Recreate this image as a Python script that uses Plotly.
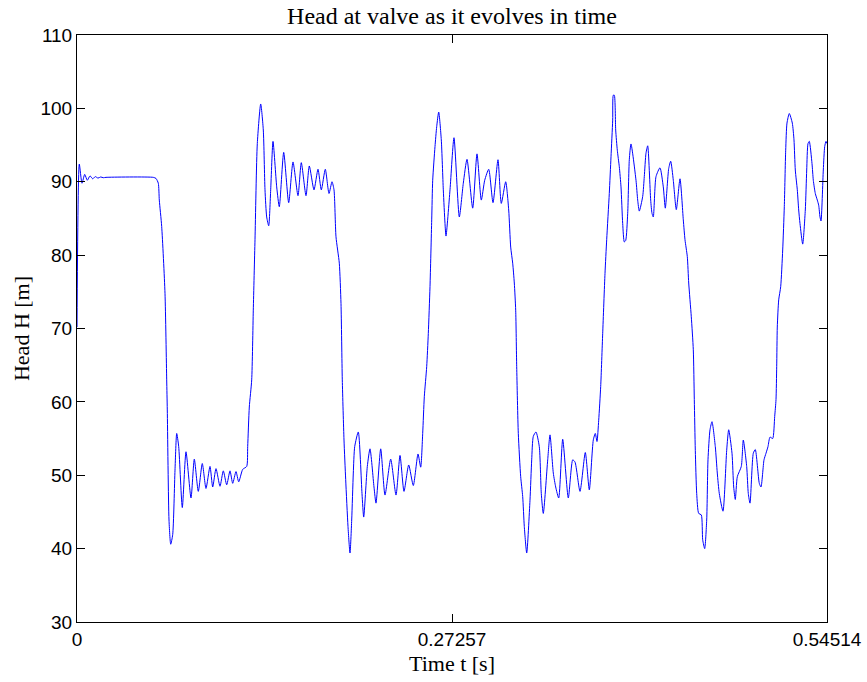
import plotly.graph_objects as go

# time in milliseconds (converted to seconds for plotting)
t_ms = [0.00, 1.67, 3.63, 5.60, 7.49, 9.45, 11.41, 13.30, 15.26, 17.23, 19.12, 21.08,
        55.46, 57.42, 59.09, 59.82, 61.56, 63.96, 65.20, 65.63, 66.87, 68.11, 69.56, 71.23,
        72.47, 73.92, 76.54, 79.23, 82.86, 85.26, 88.17, 91.07, 93.76, 96.67, 98.63, 101.03,
        103.94, 106.34, 108.81, 111.21, 113.17, 115.57, 117.53, 120.44, 123.35, 124.07, 125.24,
        126.98, 128.14, 129.38, 131.05, 133.52, 135.41, 136.65, 137.88, 139.34, 140.79, 142.46,
        145.15, 147.04, 150.24, 153.87, 157.00, 160.63, 163.03, 166.45, 168.85, 172.26, 175.17,
        177.57, 180.48, 183.17, 185.35, 186.80, 188.25, 190.65, 191.89, 192.83, 194.07, 195.30,
        196.98, 198.43, 199.67, 200.83, 201.85, 204.46, 207.15, 208.39, 211.01, 212.97, 215.87,
        217.33, 220.75, 223.87, 228.01, 231.87, 234.78, 237.68, 241.10, 244.44, 247.86, 249.82,
        251.27, 252.44, 254.18, 255.34, 256.58, 257.82, 258.54, 260.21, 261.45, 262.90, 264.79,
        266.25, 267.48, 268.21, 271.12, 274.02, 277.88, 280.78, 283.47, 287.61, 290.74, 293.87,
        296.34, 299.25, 302.37, 306.00, 308.40, 311.60, 313.78, 315.23, 316.69, 317.85, 318.87,
        319.60, 320.76, 322.50, 323.96, 325.12, 326.87, 329.26, 330.50, 331.66, 333.62, 336.02,
        337.48, 338.93, 342.13, 343.80, 346.20, 347.94, 350.13, 353.03, 357.10, 360.30, 361.98,
        365.61, 369.46, 372.37, 375.27, 376.73, 377.96, 379.20, 380.65, 382.10, 383.78, 385.01,
        386.90, 388.14, 389.37, 389.81, 390.54, 391.55, 392.72, 394.17, 395.41, 396.64, 397.81,
        398.82, 400.28, 401.44, 402.67, 406.31, 407.54, 408.71, 411.18, 412.34, 413.58, 414.81,
        416.99, 417.94, 418.88, 420.85, 423.75, 426.15, 427.61, 430.08, 431.53, 433.42, 435.60,
        438.29, 440.69, 441.92, 443.60, 444.62, 446.50, 447.96, 448.69, 449.42, 450.43, 451.88,
        453.77, 454.79, 456.24, 457.70, 458.64, 460.10, 461.55, 463.95, 465.40, 466.86, 469.54,
        472.23, 473.69, 476.09, 477.32, 478.49, 479.94, 482.85, 484.30, 486.77, 487.94, 489.17,
        491.57, 493.02, 495.93, 497.17, 499.35, 500.80, 502.25, 503.71, 505.67, 507.12, 508.07,
        508.58, 509.01, 510.03, 511.49, 512.94, 514.10, 515.12, 516.06, 517.74, 519.92, 521.15,
        522.10, 523.55, 524.57, 525.51, 527.48, 529.37, 530.39, 531.33, 532.27, 534.23, 535.19,
        536.64, 538.09, 539.11, 540.05, 540.78, 542.45, 543.47, 544.41, 545.14]

head_m = [70.2, 92.4, 89.8, 91.0, 90.2, 90.8, 90.4, 90.7, 90.5, 90.65, 90.55, 90.6,
          90.6, 90.45, 89.8, 87.5, 83.9, 74.8, 63.0, 58.9, 43.9, 40.6, 41.9, 50.7,
          55.7, 53.9, 45.6, 53.2, 46.9, 52.2, 47.8, 51.6, 48.2, 51.2, 48.4, 50.9,
          48.5, 50.6, 48.7, 50.6, 48.9, 50.5, 49.1, 50.8, 51.2, 53.9, 59.3,
          63.0, 72.5, 82.1, 95.2, 100.6, 97.05, 88.9, 85.2, 84.0, 88.9, 95.5,
          89.3, 86.6, 94.0, 87.15, 92.7, 88.1, 92.6, 88.1, 92.15, 88.9, 91.7,
          88.9, 91.7, 88.4, 90.0, 88.9, 82.5, 78.9, 73.4, 63.0, 54.8, 49.4,
          43.0, 39.4, 43.9, 50.3, 53.9, 55.9, 47.5, 44.3, 51.2, 53.6, 48.4,
          46.2, 53.6, 47.3, 52.2, 47.3, 52.7, 47.8, 51.4, 48.6, 52.9, 51.1,
          55.7, 60.7, 64.8, 69.3, 75.7, 84.8, 90.2, 94.8, 97.5, 99.5, 95.7,
          88.9, 84.3, 82.6, 88.9, 96.0, 85.2, 89.8, 93.05, 86.4, 93.8, 87.5,
          90.2, 91.7, 87.15, 93.0, 87.05, 90.0, 86.15, 81.1, 78.9, 76.2, 72.5,
          64.8, 55.7, 49.8, 47.1, 43.0, 39.4, 46.6, 52.1, 55.3, 55.9, 53.9,
          47.5, 44.8, 52.1, 55.5, 50.3, 48.4, 46.9, 54.9, 46.9, 52.1, 51.8,
          47.8, 53.1, 48.0, 54.8, 55.7, 54.6, 57.5, 62.1, 69.3, 77.5, 82.1,
          88.4, 93.4, 98.4, 101.8, 101.8, 97.05, 94.3, 92.05, 89.3, 84.3, 81.8,
          82.0, 85.7, 93.0, 95.15, 90.2, 87.5, 86.0, 88.0, 90.7, 93.9, 94.9,
          87.5, 85.7, 85.2, 90.7, 91.9, 89.3, 86.4, 91.8, 92.8, 90.2, 86.2,
          90.4, 84.8, 82.1, 79.8, 76.2, 71.6, 67.1, 60.3, 53.4, 47.5, 44.8,
          44.6, 41.2, 40.0, 43.9, 52.1, 56.2, 57.3, 53.9, 50.3, 47.5, 45.1,
          53.4, 56.2, 53.0, 48.4, 46.7, 49.8, 51.2, 54.8, 51.2, 47.5, 46.2,
          53.0, 53.5, 48.9, 48.4, 52.1, 53.0, 53.9, 55.2, 55.0, 58.0, 60.3,
          64.8, 70.2, 73.9, 75.7, 80.7, 86.6, 94.3, 98.0, 99.3, 98.0, 95.7,
          91.6, 88.9, 86.15, 84.3, 81.5, 86.15, 91.6, 95.2, 95.5, 92.5, 90.2,
          88.4, 87.5, 86.8, 85.2, 84.65, 91.6, 94.8, 95.5, 95.2]

x_ticks = [0, 0.27257, 0.54514]
x_ticklabels = ["0", "0.27257", "0.54514"]
y_ticks = [30, 40, 50, 60, 70, 80, 90, 100, 110]

t_s = [v / 1000.0 for v in t_ms]

fig = go.Figure()
fig.add_trace(go.Scatter(x=t_s, y=head_m, mode="lines",
                         line=dict(color="#0000ff", width=1, shape="spline", smoothing=0.6),
                         showlegend=False, hoverinfo="skip"))

serif = "Liberation Serif, Times New Roman, serif"
sans = "Liberation Sans, Arial, Helvetica, sans-serif"

fig.update_layout(
    width=867, height=682,
    margin=dict(l=77, r=40, t=35, b=60, autoexpand=False),
    paper_bgcolor="white", plot_bgcolor="white",
    title=dict(text="Head at valve as it evolves in time", x=0.5, xref="paper",
               xanchor="center", y=1, yref="container", yanchor="top", pad=dict(t=7),
               font=dict(family=serif, size=24, color="black")),
)
fig.update_xaxes(range=[0, 0.54514], tickvals=x_ticks, ticktext=x_ticklabels,
                 ticks="inside", ticklen=8, tickcolor="black", tickwidth=1,
                 showline=True, linecolor="black", linewidth=1, mirror="allticks",
                 showgrid=False, zeroline=False, automargin=False,
                 tickfont=dict(family=sans, size=19, color="black"),
                 title=dict(text="Time t [s]", font=dict(family=serif, size=22, color="black"), standoff=6))
fig.update_yaxes(range=[30, 110], tickvals=y_ticks,
                 ticks="inside", ticklen=8, tickcolor="black", tickwidth=1,
                 showline=True, linecolor="black", linewidth=1, mirror="allticks",
                 showgrid=False, zeroline=False, automargin=False,
                 tickfont=dict(family=sans, size=19, color="black"),
                 title=dict(text="Head H [m]", font=dict(family=serif, size=22, color="black"), standoff=4))

fig.write_html("out.html")
